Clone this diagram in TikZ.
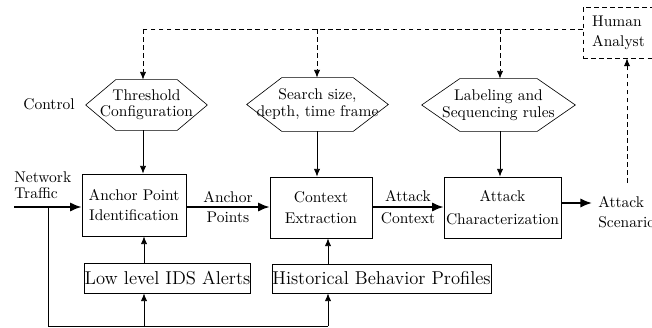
\documentclass[tikz,border=0pt]{standalone}
\usetikzlibrary{arrows.meta,calc}
\newcommand\myhex[2]{\draw (#1.west) -- ($(#1.north west)+(#2,0)$) -- ($(#1.north east)+(-#2,0)$) -- (#1.east) -- ($(#1.south east)+(-#2,0)$) -- ($(#1.south west)+(#2,0)$) -- cycle;}
\begin{document}
\begin{tikzpicture}[x=0.645pt,y=-0.645pt,
  box/.style={draw, rectangle, inner sep=0pt, align=center},
  hexbox/.style={rectangle, inner sep=0pt, align=center},
  plain/.style={inner sep=0pt, align=center},
  arr/.style={-{Latex[length=5pt,width=4pt]}, line width=0.5pt},
  thick arr/.style={-{Latex[length=7.5pt,width=6pt]}, line width=1.3pt},
  dsh/.style={dash pattern=on 3pt off 2.2pt, line width=0.5pt},
  ]
\useasboundingbox (0,0) rectangle (652,328);

% column coordinates
\coordinate (c1) at (143,0);
\coordinate (c2) at (144,0);
\coordinate (c3) at (317,0);
\coordinate (c4) at (500,0);
\coordinate (c5) at (328,0);
\coordinate (dt) at (143,29);
\coordinate (fb) at (48,207);
\coordinate (bl) at (48,326);
\coordinate (br) at (328,326);
\coordinate (nt0) at (14,207);
\coordinate (hs) at (627,183);
\coordinate (so) at (561,203);
\coordinate (se2) at (592,203);

% labels
\node[plain] (ctl) at (49,104) {Control};
\node[plain, align=left, anchor=west] (nt) at (14,185) {Network\\[-2pt]Traffic};
\node[plain, align=left, anchor=west] (sc) at (598,212) {Attack\\[1pt]Scenario};

% hexagons
\node[hexbox, minimum width=121*0.645pt, minimum height=50*0.645pt] (th) at (146.5,105) {Threshold\\[-1.7pt]Configuration};
\myhex{th}{30}
\node[hexbox, minimum width=141*0.645pt, minimum height=53*0.645pt] (se) at (317.5,104.5) {Search size,\\[-1pt]depth, time frame};
\myhex{se}{35}
\node[hexbox, minimum width=153*0.645pt, minimum height=52*0.645pt] (lb) at (498.5,105) {Labeling and\\[-1pt]Sequencing rules};
\myhex{lb}{38}

% boxes
\node[box, minimum width=104*0.645pt, minimum height=62*0.645pt] (ap) at (134,205) {Anchor Point\\[1pt]Identification};
\node[box, minimum width=102*0.645pt, minimum height=61*0.645pt] (ce) at (321,207.5) {Context\\[1.5pt]Extraction};
\node[box, minimum width=117*0.645pt, minimum height=61*0.645pt] (ac) at (502.5,207.5) {Attack\\[2.5pt]Characterization};
\node[box, font=\large, minimum width=165*0.645pt, minimum height=30*0.645pt] (ids) at (167.5,278) {Low level IDS Alerts};
\node[box, font=\large, minimum width=219*0.645pt, minimum height=29*0.645pt] (hist) at (381.5,278.5) {Historical Behavior Profiles};
\node[draw, dsh, rectangle, inner sep=0pt, align=left, minimum width=71*0.645pt, minimum height=51*0.645pt] (ha) at (618.5,32.5) {Human\\[1pt]Analyst};

% main flow
\draw[thick arr] (nt0) -- (ap.west |- nt0);
\draw[thick arr] (ap.east |- fb) -- node[plain] (apl) {Anchor\\[1pt]Points} (ce.west |- fb);
\draw[thick arr] (ce.east |- fb) -- node[plain] (acl) {Attack\\[2pt]Context} (ac.west |- fb);
\draw[thick arr] (ac.east |- so) -- (se2);

% controls down
\draw[arr] (th.south -| c1) -- (ap.north -| c1);
\draw[arr] (se.south -| c3) -- (ce.north -| c3);
\draw[arr] (lb.south -| c4) -- (ac.north -| c4);

% inputs up
\draw[arr] (ids.north -| c2) -- (ap.south -| c2);
\draw[arr] (hist.north -| c5) -- (ce.south -| c5);
\draw[line width=0.5pt] (fb) -- (bl) -- (br);
\draw[arr] (br) -- (hist.south -| br);
\draw[arr] (bl -| c2) -- (ids.south -| c2);

% human analyst feedback
\draw[dsh] (ha.west |- dt) -- (dt);
\draw[dsh, -{Latex[length=5pt,width=4pt]}] (dt) -- (th.north -| dt);
\draw[dsh, -{Latex[length=5pt,width=4pt]}] (c3 |- dt) -- (se.north -| c3);
\draw[dsh, -{Latex[length=5pt,width=4pt]}] (c4 |- dt) -- (lb.north -| c4);
\draw[dsh, -{Latex[length=5pt,width=4pt]}] (hs) -- (ha.south -| hs);
\end{tikzpicture}
\end{document}
